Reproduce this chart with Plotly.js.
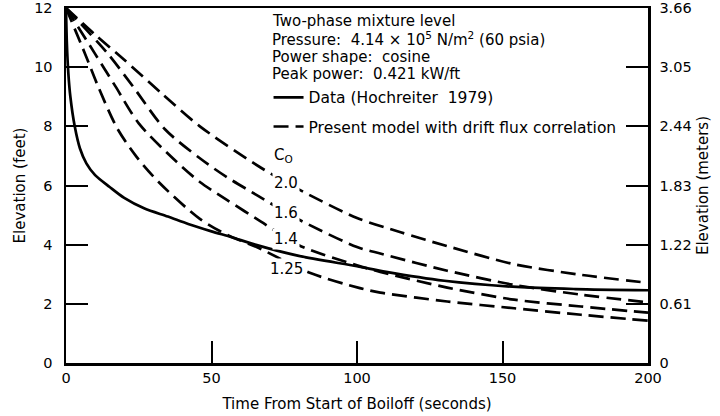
<!DOCTYPE html>
<html>
<head>
<meta charset="utf-8">
<script src="https://cdn.plot.ly/plotly-3.0.1.min.js"></script>
<style>html,body{margin:0;padding:0;background:#fff;}#chart{width:720px;height:416px;}</style>
</head>
<body>
<div id="chart"></div>
<script>
// Measured data (Hochreiter 1979)
const timeData = [0,0.3,0.8,1.5,3,4.8,7,10,15,20,27,35,42,50,57,65,80,100,110,130,155,175,200];
const elevData = [12,10.8,9.8,9.0,8.0,7.25,6.75,6.35,5.95,5.58,5.22,4.95,4.7,4.45,4.25,4.0,3.62,3.27,3.08,2.78,2.57,2.5,2.46];

// Present model, drift flux correlation, C0 = 2.0
const timeC20 = [0,10,20,33,46,67,80,100,115,131,154,177,200];
const elevC20 = [12,11.1,10.25,9.1,8.0,6.6,5.87,4.9,4.42,3.95,3.34,2.98,2.71];
// C0 = 1.6
const timeC16 = [0,14,23,34,46,55,66,80,100,108,131,154,177,200];
const elevC16 = [12,10.5,9.35,7.9,6.92,6.3,5.65,4.85,3.92,3.7,3.12,2.64,2.31,2.05];
// C0 = 1.4
const timeC14 = [0,10,17,25,38,46,55,67,80,100,108,131,154,177,200];
const elevC14 = [12,10.45,9.35,8.1,6.8,6.12,5.53,4.78,3.98,3.3,3.08,2.55,2.14,1.91,1.70];
// C0 = 1.25
const timeC125 = [0,6.6,11.2,17.5,24,32,46,56,65.5,84,101,108,131,154,177,200];
const elevC125 = [12,10.44,9.31,7.95,7.0,6.1,4.87,4.3,3.92,3.04,2.53,2.38,2.08,1.85,1.63,1.43];

const xTicks = [0,50,100,150,200];
const yTicksFeet = [0,2,4,6,8,10,12];
const yTickMeters = ['0','0.61','1.22','1.83','2.44','3.05','3.66'];

const coLabels = ['2.0','1.6','1.4','1.25'];
const coLabelX = [70.8,70.8,70.8,69.4];
const coLabelY = [6.07,5.08,4.2,3.19];

const FONT = 'DejaVu Sans, Liberation Sans, Arial, sans-serif';
const dashStyle = {color:'#000', width:2.7, dash:'15px,7px', shape:'spline', smoothing:0.8};

const traces = [
  {x:timeData, y:elevData, mode:'lines', name:'Data (Hochreiter  1979)', legendgroup:'data',
   line:{color:'#000', width:2.7, shape:'spline', smoothing:0.8}, hoverinfo:'x+y'},
  {x:timeC20, y:elevC20, mode:'lines', name:'Present model with drift flux correlation', legendgroup:'model',
   line:dashStyle},
  {x:timeC16, y:elevC16, mode:'lines', name:'C0 1.6', legendgroup:'model', showlegend:false, line:dashStyle},
  {x:timeC14, y:elevC14, mode:'lines', name:'C0 1.4', legendgroup:'model', showlegend:false, line:dashStyle},
  {x:timeC125, y:elevC125, mode:'lines', name:'C0 1.25', legendgroup:'model', showlegend:false, line:dashStyle},
  {x:[], y:[], yaxis:'y2', mode:'lines', showlegend:false, hoverinfo:'skip'}
];

const annotations = [
  {text:'Two-phase mixture level', xref:'paper', yref:'paper', x:0.3505, y:0.963},
  {text:'Pressure:  4.14 × 10<sup>5</sup> N/m<sup>2</sup> (60 psia)', xref:'paper', yref:'paper', x:0.3505, y:0.9125},
  {text:'Power shape:  cosine', xref:'paper', yref:'paper', x:0.3505, y:0.862},
  {text:'Peak power:  0.421 kW/ft', xref:'paper', yref:'paper', x:0.3505, y:0.814},
  {text:'C<sub>O</sub>', xref:'x', yref:'y', x:70.8, y:7.0, bgcolor:'#fff'}
].map(a => Object.assign({xanchor:'left', yanchor:'middle', showarrow:false, font:{family:FONT, size:15, color:'#000'}}, a));

coLabels.forEach((t,i) => annotations.push({
  text:t, xref:'x', yref:'y', x:coLabelX[i], y:coLabelY[i], xanchor:'left', yanchor:'middle',
  showarrow:false, bgcolor:'#fff', borderpad:1, font:{family:FONT, size:15, color:'#000'}
}));

const axisCommon = {showgrid:false, zeroline:false, showline:true, linecolor:'#000', linewidth:2.5,
  ticks:'inside', ticklen:22, tickwidth:2, tickcolor:'#000', ticklabeloverflow:'allow',
  tickfont:{family:FONT, size:14.5, color:'#000'}};

const layout = {
  width:720, height:416,
  margin:{l:66, r:72, t:8, b:53},
  paper_bgcolor:'#fff', plot_bgcolor:'#fff',
  font:{family:FONT, size:15, color:'#000'},
  showlegend:true,
  legend:{x:0.348, y:0.795, xanchor:'left', yanchor:'top', bgcolor:'rgba(0,0,0,0)',
    traceorder:'grouped', tracegroupgap:6, font:{family:FONT, size:15.5, color:'#000'}},
  xaxis:Object.assign({}, axisCommon, {range:[0,200], tickvals:xTicks, mirror:true,
    title:{text:'Time From Start of Boiloff (seconds)', standoff:14, font:{family:FONT, size:15, color:'#000'}}}),
  yaxis:Object.assign({}, axisCommon, {range:[0,12], tickvals:yTicksFeet, ticklabelstandoff:8,
    title:{text:'Elevation (feet)', font:{family:FONT, size:15, color:'#000'}}}),
  yaxis2:Object.assign({}, axisCommon, {range:[0,12], tickvals:yTicksFeet, ticktext:yTickMeters,
    overlaying:'y', side:'right', ticklabelstandoff:6,
    title:{text:'Elevation (meters)', font:{family:FONT, size:15, color:'#000'}}}),
  annotations:annotations
};

Plotly.newPlot('chart', traces, layout, {displayModeBar:false, staticPlot:true});
</script>
</body>
</html>
